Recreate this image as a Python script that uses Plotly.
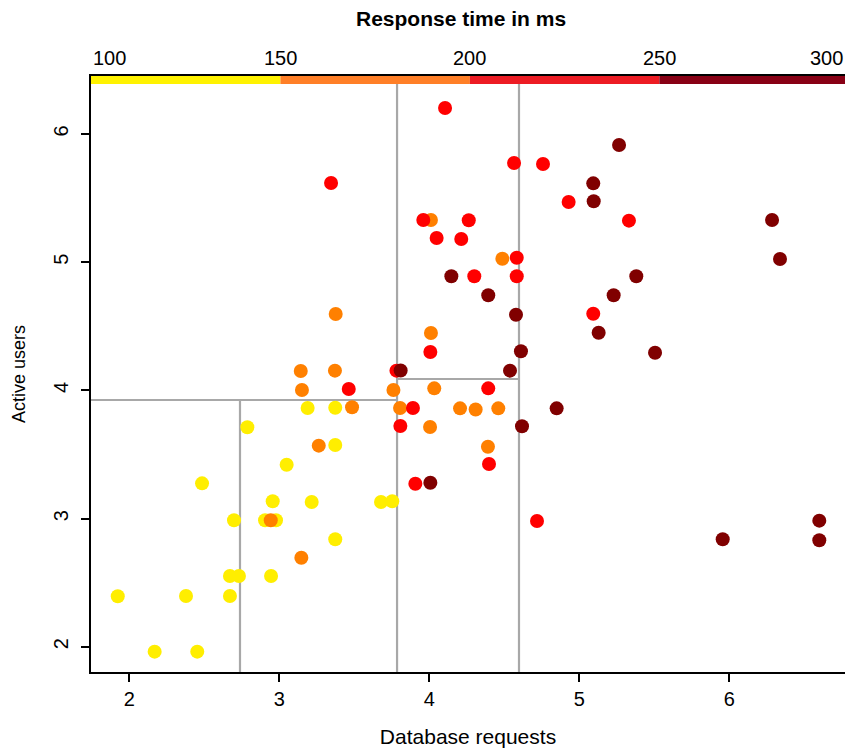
import plotly.graph_objects as go

# ---------------- data ----------------
bins_ms = [100, 150, 200, 250, 300]
bin_names = ["100-150", "150-200", "200-250", "250-300"]

x_100_150 = [1.923, 2.169, 2.378, 2.453, 2.485, 2.671, 2.731, 2.671, 2.698, 2.787, 2.905,
             2.978, 2.945, 2.956, 3.049, 3.189, 3.216, 3.373, 3.373, 3.373, 3.678, 3.753]
y_100_150 = [2.394, 1.962, 2.396, 1.962, 3.275, 2.552, 2.552, 2.396, 2.987, 3.712, 2.987,
             2.987, 2.552, 3.135, 3.420, 3.863, 3.130, 3.865, 3.574, 2.839, 3.130, 3.135]

x_150_200 = [2.943, 3.147, 3.143, 3.151, 3.263, 3.376, 3.371, 3.485, 3.761, 3.805, 4.005,
             4.011, 4.033, 4.011, 4.205, 4.309, 4.391, 4.460, 4.487]
y_150_200 = [2.987, 2.695, 4.151, 4.003, 3.569, 4.596, 4.154, 3.868, 4.003, 3.863, 3.715,
             4.448, 4.016, 5.329, 3.860, 3.851, 3.561, 3.860, 5.027]

x_200_250 = [3.345, 3.463, 3.781, 3.807, 3.891, 3.907, 3.960, 4.007, 4.049, 4.105, 4.213,
             4.263, 4.300, 4.393, 4.398, 4.565, 4.583, 4.583, 4.718, 4.758, 4.929, 5.093, 5.331]
y_200_250 = [5.618, 4.011, 4.154, 3.722, 3.863, 3.272, 5.329, 4.300, 5.189, 6.203, 5.181,
             5.327, 4.890, 4.016, 3.426, 5.774, 5.035, 4.890, 2.981, 5.766, 5.470, 4.598, 5.324]

x_250_300 = [3.809, 4.007, 4.147, 4.393, 4.538, 4.578, 4.611, 4.618, 4.849, 5.093, 5.096,
             5.129, 5.229, 5.265, 5.380, 5.505, 5.956, 6.285, 6.338, 6.600, 6.600]
y_250_300 = [4.155, 3.280, 4.890, 4.742, 4.154, 4.590, 4.305, 3.720, 3.860, 5.615, 5.475,
             4.450, 4.742, 5.914, 4.890, 4.294, 2.839, 5.329, 5.025, 2.984, 2.831]

# regression-tree partition boundaries
split_x_main = [3.785, 4.598]     # full-height vertical splits
split_y_left = 3.925              # horizontal split left of 3.785
split_x_lowleft = 2.738           # vertical split below split_y_left
split_y_mid = 4.089               # horizontal split between 3.785 and 4.598

x_ticks = [2, 3, 4, 5, 6]
y_ticks = [2, 3, 4, 5, 6]

# ---------------- styles ----------------
dot_colors = ["#FFEE00", "#FF8000", "#FF0000", "#800000"]
bar_colors = ["#FFF200", "#FF7F27", "#ED1C24", "#880015"]
FONT = "Liberation Sans, Arial, sans-serif"
XR = [1.7447, 6.7713]
YR = [1.8034, 6.4524]
BAR_BOTTOM = 6.390

fig = go.Figure()
series = [(x_100_150, y_100_150), (x_150_200, y_150_200),
          (x_200_250, y_200_250), (x_250_300, y_250_300)]
for (xs, ys), col, name in zip(series, dot_colors, bin_names):
    fig.add_trace(go.Scatter(x=xs, y=ys, mode="markers", name=name,
                             marker=dict(size=14, color=col, line=dict(width=0)),
                             showlegend=False))

gray = dict(color="#A8A8A8", width=2.2)
shapes = []
for sx in split_x_main:
    shapes.append(dict(type="line", xref="x", yref="y", x0=sx, x1=sx,
                       y0=YR[0], y1=BAR_BOTTOM, line=gray, layer="below"))
shapes.append(dict(type="line", xref="x", yref="y", x0=XR[0], x1=split_x_main[0],
                   y0=split_y_left, y1=split_y_left, line=gray, layer="below"))
shapes.append(dict(type="line", xref="x", yref="y", x0=split_x_lowleft, x1=split_x_lowleft,
                   y0=YR[0], y1=split_y_left, line=gray, layer="below"))
shapes.append(dict(type="line", xref="x", yref="y", x0=split_x_main[0], x1=split_x_main[1],
                   y0=split_y_mid, y1=split_y_mid, line=gray, layer="below"))

ms_range = [100, 100 + 200 * (845 - 91) / (848.5 - 90.7)]

# colour key along the top of the plot (on secondary top axis, ms units)
for i in range(4):
    shapes.append(dict(type="rect", xref="x2", yref="y", x0=bins_ms[i],
                       x1=min(bins_ms[i + 1], ms_range[1]),
                       y0=BAR_BOTTOM, y1=YR[1], fillcolor=bar_colors[i],
                       line=dict(width=0), layer="above"))

annotations = []
for i, b in enumerate(bins_ms):
    anchor = "left" if i == 0 else ("right" if i == len(bins_ms) - 1 else "center")
    annotations.append(dict(x=min(b, ms_range[1]), y=1, xref="x2", yref="paper", text=str(b),
                            showarrow=False, xanchor=anchor, yanchor="bottom", yshift=5,
                            font=dict(family=FONT, size=20, color="black")))
annotations.append(dict(x=0.4907, y=1, xref="paper", yref="paper",
                        text="<b>Response time in ms</b>", showarrow=False,
                        xanchor="center", yanchor="bottom", yshift=44,
                        font=dict(family=FONT, size=21, color="black")))

fig.update_layout(
    width=845, height=754,
    margin=dict(l=91, r=0, t=76, b=82),
    paper_bgcolor="white", plot_bgcolor="white",
    shapes=shapes, annotations=annotations,
    xaxis=dict(range=XR, tickvals=x_ticks, showgrid=False, zeroline=False,
               showline=True, linecolor="black", linewidth=2, mirror=True,
               ticks="outside", ticklen=8, tickwidth=2, tickcolor="black",
               ticklabelstandoff=0,
               tickfont=dict(family=FONT, size=20, color="black"),
               title=dict(text="Database requests", standoff=20,
                          font=dict(family=FONT, size=21, color="black"))),
    yaxis=dict(range=YR, tickvals=y_ticks, showgrid=False, zeroline=False,
               showline=True, linecolor="black", linewidth=2,
               ticks="outside", ticklen=8, tickwidth=2, tickcolor="black",
               tickangle=-90, ticklabelstandoff=5,
               tickfont=dict(family=FONT, size=20, color="black"),
               title=dict(text="Active users", standoff=20,
                          font=dict(family=FONT, size=18, color="black"))),
    xaxis2=dict(range=ms_range, overlaying="x", side="top", showticklabels=False,
                showgrid=False, zeroline=False, showline=False, ticks=""),
)

fig.write_html("out.html")
